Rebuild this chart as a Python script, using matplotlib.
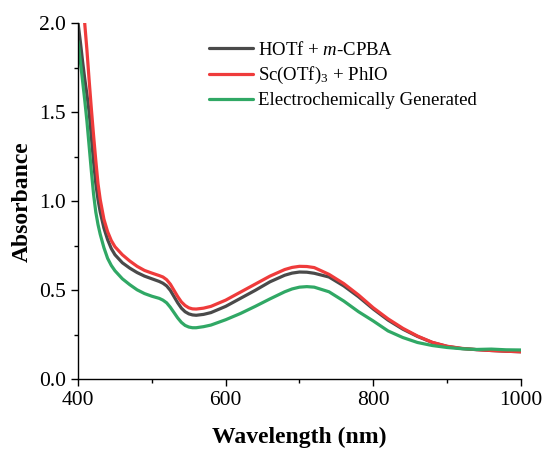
import numpy as np
import matplotlib
matplotlib.use('Agg')
import matplotlib.pyplot as plt
from matplotlib.ticker import MultipleLocator

plt.rcParams['font.family'] = ['Liberation Serif', 'DejaVu Serif']
plt.rcParams['mathtext.fontset'] = 'custom'
plt.rcParams['mathtext.rm'] = 'Liberation Serif'
plt.rcParams['mathtext.it'] = 'Liberation Serif:italic'

# -------------------------
# data
# -------------------------
wl = [400, 403, 406, 409, 412, 415, 418, 421, 424, 427, 430, 435, 440, 445,
      450, 460, 470, 480, 490, 500, 510, 515, 520, 525, 530, 535, 540, 545,
      550, 555, 560, 570, 580, 600, 620, 640, 660, 680, 690, 700, 710, 720,
      740, 760, 780, 800, 820, 840, 860, 880, 900, 920, 940, 960, 980, 1000]

hotf = [2.00, 1.90, 1.79, 1.69, 1.60, 1.50, 1.36, 1.22, 1.10, 1.01, 0.94,
        0.85, 0.785, 0.735, 0.70, 0.655, 0.625, 0.60, 0.58, 0.565, 0.55,
        0.54, 0.525, 0.50, 0.465, 0.43, 0.40, 0.38, 0.368, 0.362, 0.36,
        0.365, 0.375, 0.41, 0.455, 0.50, 0.548, 0.585, 0.597, 0.603, 0.602,
        0.596, 0.575, 0.525, 0.464, 0.395, 0.333, 0.282, 0.241, 0.207, 0.185,
        0.173, 0.167, 0.162, 0.158, 0.155]

sc = [2.30, 2.20, 2.10, 2.00, 1.85, 1.68, 1.52, 1.37, 1.23, 1.10, 1.01,
      0.90, 0.83, 0.78, 0.745, 0.70, 0.665, 0.635, 0.612, 0.597, 0.583,
      0.575, 0.56, 0.535, 0.50, 0.465, 0.435, 0.415, 0.402, 0.396, 0.395,
      0.40, 0.41, 0.445, 0.49, 0.535, 0.58, 0.617, 0.629, 0.635, 0.634,
      0.628, 0.59, 0.538, 0.474, 0.402, 0.34, 0.287, 0.243, 0.208, 0.186,
      0.174, 0.167, 0.162, 0.158, 0.155]

echem = [1.90, 1.79, 1.68, 1.57, 1.45, 1.31, 1.17, 1.04, 0.94, 0.87, 0.815,
         0.74, 0.68, 0.64, 0.61, 0.565, 0.532, 0.503, 0.482, 0.467, 0.455,
         0.445, 0.43, 0.405, 0.375, 0.345, 0.32, 0.303, 0.294, 0.29, 0.29,
         0.296, 0.305, 0.335, 0.37, 0.41, 0.452, 0.492, 0.508, 0.518, 0.521,
         0.518, 0.492, 0.44, 0.38, 0.328, 0.272, 0.235, 0.207, 0.19, 0.179,
         0.172, 0.168, 0.170, 0.166, 0.165]

labels = ['HOTf + $\\it{m}$-CPBA', 'Sc(OTf)$_3$ + PhIO',
          'Electrochemically Generated']
colors = ['#4a4a4a', '#ef3b3b', '#30a865']

# -------------------------
# plot
# -------------------------
fig = plt.figure(figsize=(5.46, 4.5), dpi=100)
ax = fig.add_axes([0.143, 0.157, 0.811, 0.791])

for s, l, c in zip([hotf, sc, echem], labels, colors):
    ax.plot(wl, s, color=c, lw=2.3, label=l, solid_capstyle='round',
            solid_joinstyle='round')

ax.set_xlim(400, 1000)
ax.set_ylim(0, 2.0)
ax.xaxis.set_major_locator(MultipleLocator(200))
ax.xaxis.set_minor_locator(MultipleLocator(100))
ax.yaxis.set_major_locator(MultipleLocator(0.5))
ax.yaxis.set_minor_locator(MultipleLocator(0.25))
ax.yaxis.set_major_formatter(matplotlib.ticker.FormatStrFormatter('%.1f'))

for side in ['top', 'right']:
    ax.spines[side].set_visible(False)
for side in ['left', 'bottom']:
    ax.spines[side].set_linewidth(1.0)

ax.tick_params(which='major', direction='out', length=5, width=1.0,
               labelsize=15.5)
ax.tick_params(which='minor', direction='out', length=3, width=1.0)

ax.set_xlabel('Wavelength (nm)', fontsize=17, fontweight='bold', labelpad=12)
ax.set_ylabel('Absorbance', fontsize=17, fontweight='bold', labelpad=5)

ax.legend(loc='upper left', bbox_to_anchor=(0.296, 0.951), frameon=False,
          fontsize=13.5, handlelength=2.35, handletextpad=0.27,
          labelspacing=0.33, borderaxespad=0, borderpad=0)

fig.savefig('out.png', dpi=100)
